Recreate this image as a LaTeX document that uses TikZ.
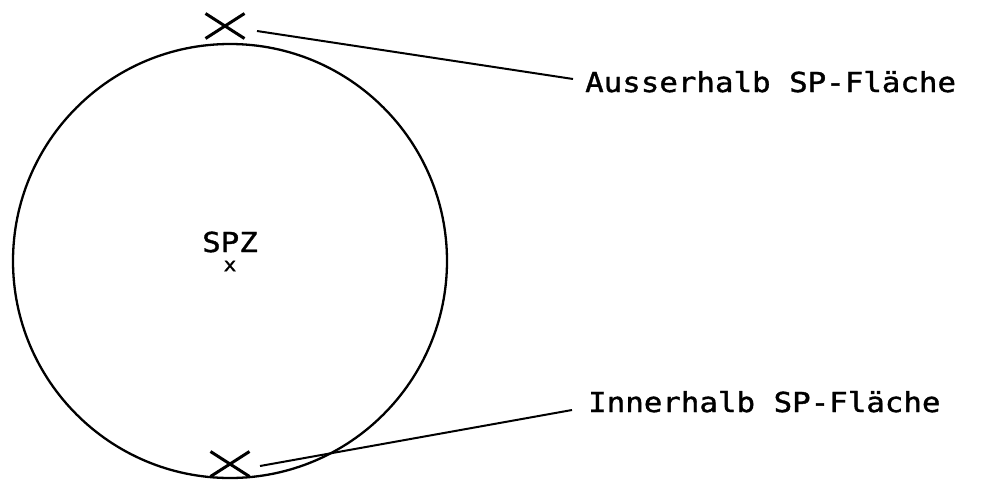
\documentclass[tikz,border=0pt]{standalone}
\usepackage{fontspec}
\usetikzlibrary{shapes.misc}
\newfontfamily\plotfont[FakeStretch=1.12,FakeBold=1.3]{DejaVu Sans Mono}
\tikzset{
  outline/.style={draw, circle, line width=2.3pt, inner sep=0pt},
  mark cross/.style={draw, cross out, line width=3pt, inner sep=0pt,
                     minimum width=36pt, minimum height=22pt},
  leader/.style={line width=2pt},
  label text/.style={inner sep=0pt, font=\plotfont\fontsize{27.5pt}{30pt}\selectfont},
}
\begin{document}
\begin{tikzpicture}[x=1pt,y=-1pt]
\useasboundingbox (0,0) rectangle (985,480);

% SP area outline
\node[outline, minimum size=434pt] (zone) at (230,261) {};

% centre of the area
\node[label text, anchor=base] (spz) at (230,252) {SPZ};
\node[inner sep=0pt, font=\plotfont\fontsize{19pt}{19pt}\selectfont] (centre) at (230,266) {x};

% points outside and inside the area
\node[mark cross] (outer) at (225,26) {};
\node[mark cross] (inner) at (230,464) {};

% labels
\node[label text, anchor=base west] (outerlbl) at (585,92) {Ausserhalb SP-Fläche};
\node[label text, anchor=base west] (innerlbl) at (588,412) {Innerhalb SP-Fläche};

% leader lines
\coordinate (outerA) at (257,31);
\coordinate (outerB) at (573,79);
\coordinate (innerA) at (260,466);
\coordinate (innerB) at (572,410);
\draw[leader] (outerA) -- (outerB);
\draw[leader] (innerA) -- (innerB);
\end{tikzpicture}
\end{document}
